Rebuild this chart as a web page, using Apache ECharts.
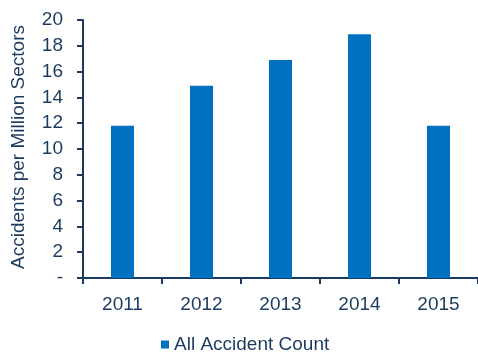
<!DOCTYPE html>
<html><head><meta charset="utf-8">
<script src="https://cdn.jsdelivr.net/npm/echarts@6/dist/echarts.min.js"></script>
<style>html,body{margin:0;padding:0;background:#fff}#c{width:478px;height:356px}</style>
</head><body><div id="c"></div>
<script>
const categories = ['2011','2012','2013','2014','2015'];
const accidentCounts = [11.8, 14.9, 16.9, 18.9, 11.8];
const seriesName = 'All Accident Count';
const yTitle = 'Accidents per Million Sectors';

const navy = '#1b3a5f';
const font = 'Liberation Sans, Arial, sans-serif';
const chart = echarts.init(document.getElementById('c'), null, {renderer:'canvas'});
chart.setOption({
  animation: false,
  textStyle: {fontFamily: font},
  grid: {left: 83, top: 20, right: 0, bottom: 78, containLabel: false},
  legend: {
    bottom: -3, left: 156, itemWidth: 8, itemHeight: 8, itemGap: 10,
    icon: 'rect',
    textStyle: {color: navy, fontSize: 19, fontFamily: font},
    data: [seriesName]
  },
  xAxis: {
    type: 'category', data: categories, boundaryGap: true,
    axisLine: {lineStyle: {color: navy, width: 2}},
    axisTick: {show: true, length: 6, lineStyle: {color: navy, width: 2}},
    axisLabel: {color: navy, fontSize: 19, margin: 17, fontFamily: font}
  },
  yAxis: {
    type: 'value', min: 0, max: 20, interval: 2,
    name: yTitle, nameLocation: 'middle', nameGap: 55, nameRotate: 90,
    nameTextStyle: {color: navy, fontSize: 19, fontFamily: font, padding: [0, 0, 0, 4]},
    axisLine: {show: true, lineStyle: {color: navy, width: 2}},
    axisTick: {show: true, length: 6, lineStyle: {color: navy, width: 2}},
    splitLine: {show: false},
    axisLabel: {color: navy, fontSize: 19, margin: 20, fontFamily: font,
      formatter: v => v === 0 ? '-' : String(v)}
  },
  series: [{
    name: seriesName, type: 'bar', data: accidentCounts, barWidth: 23,
    itemStyle: {color: '#0070c0'}
  }]
});
</script></body></html>
